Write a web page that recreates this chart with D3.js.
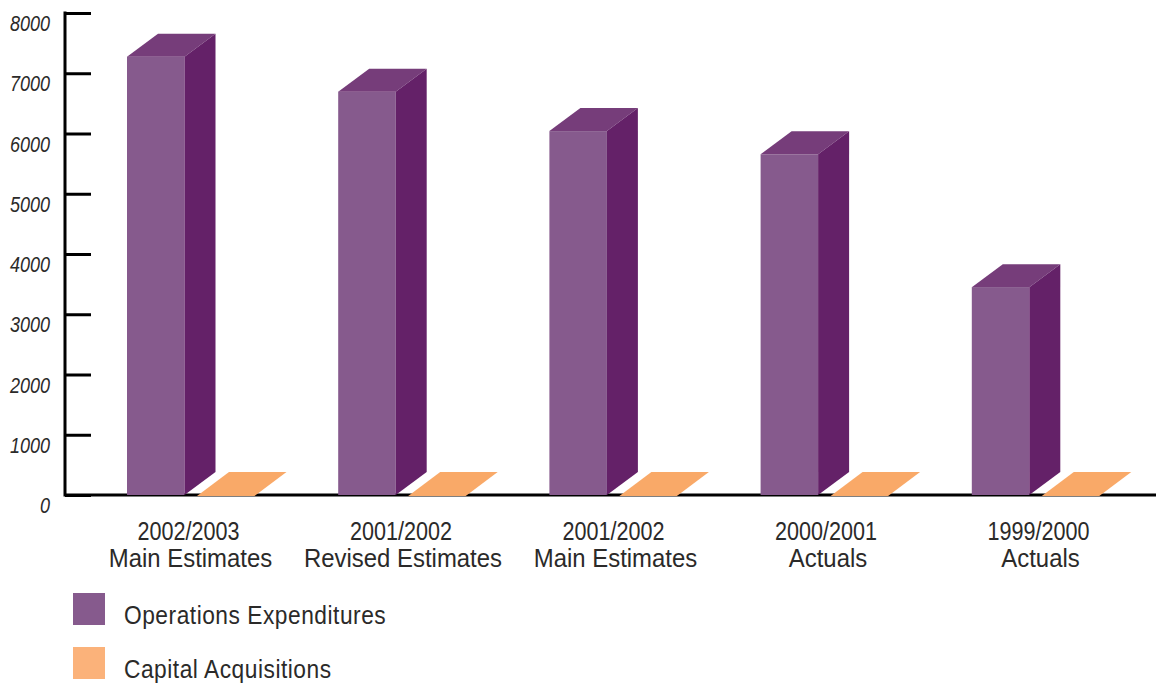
<!DOCTYPE html>
<html>
<head>
<meta charset="utf-8">
<script src="https://cdn.jsdelivr.net/npm/d3@7/dist/d3.min.js"></script>
<style>
html,body{margin:0;padding:0;background:#fff}
svg{display:block}
text{font-family:"Liberation Sans",sans-serif;fill:#2b2a29}
</style>
</head>
<body>
<svg id="chart" width="1156" height="686"></svg>
<script>
// Spending by fiscal period, in thousands of dollars
const periods = ["2002/2003", "2001/2002", "2001/2002", "2000/2001", "1999/2000"];
const periodKinds = ["Main Estimates", "Revised Estimates", "Main Estimates", "Actuals", "Actuals"];
const operations = [7275, 6695, 6040, 5655, 3450];
const capital = [0, 0, 0, 0, 0];
const yTicks = [0, 1000, 2000, 3000, 4000, 5000, 6000, 7000, 8000];
const legendNames = ["Operations Expenditures", "Capital Acquisitions"];

const svg = d3.select("#chart");
const ids = d3.range(periods.length);

const y = d3.scaleLinear().domain([0, 8000]).range([495, 13]);
const x = d3.scaleBand().domain(ids).range([75, 1131]);
const labelX = d3.scalePoint().domain(ids).range([190.5, 1040.5]);

// Oblique extrusion used for every 3D box
const depthX = 31, depthY = 23;
const barW = 57.5;
const opsX = i => x(i) + 52;
const capX = i => x(i) + 122;
const poly = pts => pts.map(p => p.join(",")).join(" ");

// The type is condensed horizontally, so each label is squeezed around its anchor
const tickSqueeze = 0.82, periodSqueeze = 0.83, kindSqueeze = 0.92, legendSqueeze = 0.875;

// Vertical axis
const axis = d3.axisLeft(y).tickValues(yTicks).tickFormat(d3.format("d"))
  .tickSize(-26).tickPadding(15);
const gAxis = svg.append("g").attr("transform", "translate(65,0)").call(axis);
gAxis.select(".domain").attr("stroke", "#000").attr("stroke-width", 3)
  .attr("d", `M0,${y(8000) - 1.5}V${y(0) + 1.5}`);
gAxis.selectAll(".tick line").attr("stroke", "#000").attr("stroke-width", 3);
gAxis.selectAll(".tick text")
  .attr("font-family", null)
  .attr("font-size", 22).attr("font-style", "italic")
  .attr("x", -15 / tickSqueeze)
  .attr("dy", 17.5)
  .attr("transform", `scale(${tickSqueeze},1)`);

// Baseline
svg.append("line").attr("x1", 65).attr("x2", 1156).attr("y1", y(0)).attr("y2", y(0))
  .attr("stroke", "#000").attr("stroke-width", 3);

// Operations boxes: front, top and side faces
const bars = svg.append("g").selectAll("g").data(ids).join("g");
bars.append("rect")
  .attr("x", opsX).attr("width", barW)
  .attr("y", i => y(operations[i]))
  .attr("height", i => y(0) - y(operations[i]))
  .attr("fill", "#865a8d");
bars.append("polygon").attr("fill", "#763d7a").attr("points", i => {
  const l = opsX(i), t = y(operations[i]);
  return poly([[l, t], [l + depthX, t - depthY], [l + barW + depthX, t - depthY], [l + barW, t]]);
});
bars.append("polygon").attr("fill", "#642168").attr("points", i => {
  const l = opsX(i) + barW, t = y(operations[i]), b = y(0);
  return poly([[l, t], [l + depthX, t - depthY], [l + depthX, b - depthY], [l, b]]);
});

// Capital boxes: values are too small to give any visible height, only the top face shows
svg.append("g").selectAll("polygon").data(ids).join("polygon")
  .attr("fill", "#f9a968")
  .attr("points", i => {
    const l = capX(i), t = y(capital[i]) + 1;
    return poly([[l, t], [l + depthX + 1, t - depthY - 1], [l + barW + depthX + 1, t - depthY - 1], [l + barW, t]]);
  });

// Category labels, two lines each
const labels = svg.append("g").attr("text-anchor", "middle").attr("font-size", 26);
labels.selectAll("text.period").data(ids).join("text").attr("class", "period")
  .attr("transform", i => `translate(${labelX(i) - 2},540) scale(${periodSqueeze},1)`)
  .text(i => periods[i]);
labels.selectAll("text.kind").data(ids).join("text").attr("class", "kind")
  .attr("transform", i => `translate(${labelX(i)},567) scale(${kindSqueeze},1)`)
  .text(i => periodKinds[i]);

// Legend
const legendColors = d3.scaleOrdinal().domain(legendNames).range(["#865a8d", "#fbb27a"]);
const legendY = d3.scalePoint().domain(legendNames).range([593, 647]);
const legend = svg.append("g").selectAll("g").data(legendNames).join("g")
  .attr("transform", d => `translate(73,${legendY(d)})`);
legend.append("rect").attr("width", 32).attr("height", 32).attr("fill", d => legendColors(d));
legend.append("text").attr("transform", `translate(51,31) scale(${legendSqueeze},1)`)
  .attr("font-size", 26).attr("letter-spacing", 0.6).text(d => d);
</script>
</body>
</html>
